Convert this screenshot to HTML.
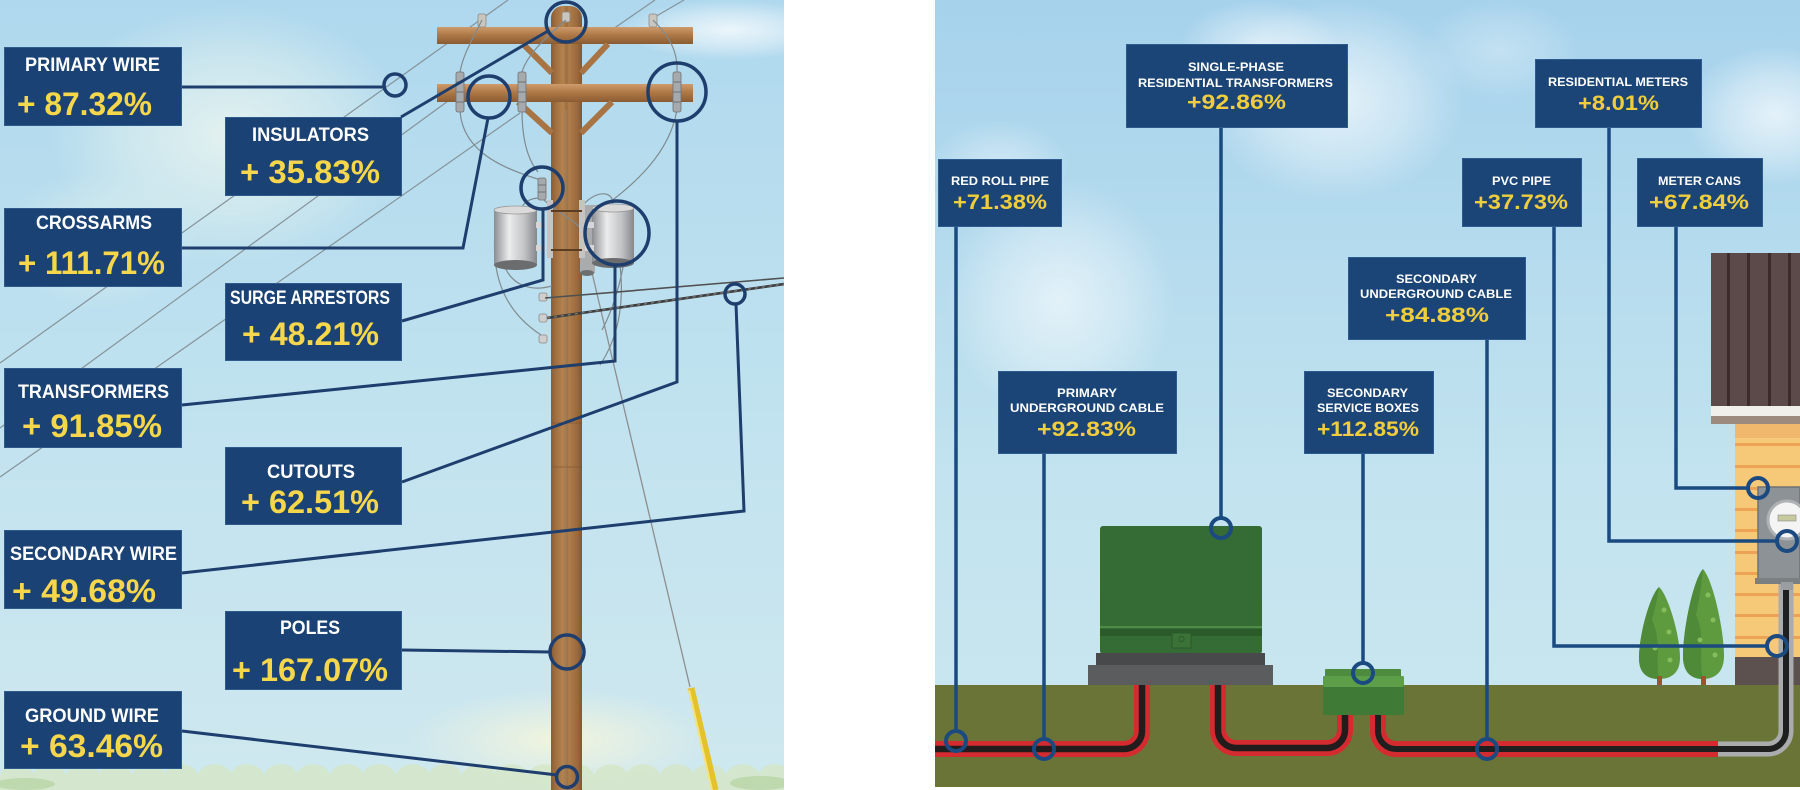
<!DOCTYPE html>
<html><head><meta charset="utf-8">
<style>
html,body{margin:0;padding:0;background:#fff;width:1800px;height:790px;overflow:hidden;}
svg{display:block;}
text{font-family:"Liberation Sans",Arial,sans-serif;font-weight:bold;}
</style></head>
<body>
<svg width="1800" height="790" viewBox="0 0 1800 790" xmlns="http://www.w3.org/2000/svg" style="overflow:hidden">
<defs>
 <linearGradient id="skyL" x1="0" y1="0" x2="0" y2="1">
  <stop offset="0" stop-color="#afd8ee"/>
  <stop offset="0.5" stop-color="#c0e2ef"/>
  <stop offset="1" stop-color="#cfe8ef"/>
 </linearGradient>
 <linearGradient id="skyR" x1="0" y1="0" x2="0" y2="1">
  <stop offset="0" stop-color="#a6d2ec"/>
  <stop offset="0.6" stop-color="#c2e3ef"/>
  <stop offset="1" stop-color="#cae7ef"/>
 </linearGradient>
 <radialGradient id="cloudW">
  <stop offset="0" stop-color="#ffffff" stop-opacity="0.75"/>
  <stop offset="0.55" stop-color="#ffffff" stop-opacity="0.4"/>
  <stop offset="1" stop-color="#ffffff" stop-opacity="0"/>
 </radialGradient>
 <radialGradient id="cloudL">
  <stop offset="0" stop-color="#e8f4ef" stop-opacity="0.9"/>
  <stop offset="0.6" stop-color="#e2f1ef" stop-opacity="0.5"/>
  <stop offset="1" stop-color="#dff0ef" stop-opacity="0"/>
 </radialGradient>
 <radialGradient id="glow">
  <stop offset="0" stop-color="#f3f5dc" stop-opacity="0.95"/>
  <stop offset="1" stop-color="#f3f5dc" stop-opacity="0"/>
 </radialGradient>
 <linearGradient id="pole" x1="0" y1="0" x2="1" y2="0">
  <stop offset="0" stop-color="#8a5d34"/>
  <stop offset="0.15" stop-color="#a06e40"/>
  <stop offset="0.4" stop-color="#b4844f"/>
  <stop offset="0.5" stop-color="#9c6d42"/>
  <stop offset="0.58" stop-color="#ad7d4a"/>
  <stop offset="0.85" stop-color="#9b693d"/>
  <stop offset="1" stop-color="#835730"/>
 </linearGradient>
 <linearGradient id="arm" x1="0" y1="0" x2="0" y2="1">
  <stop offset="0" stop-color="#cf9b6b"/>
  <stop offset="0.45" stop-color="#b07a48"/>
  <stop offset="1" stop-color="#8a5b32"/>
 </linearGradient>
 <linearGradient id="can" x1="0" y1="0" x2="1" y2="0">
  <stop offset="0" stop-color="#8a8d90"/>
  <stop offset="0.35" stop-color="#ececec"/>
  <stop offset="0.7" stop-color="#c2c4c6"/>
  <stop offset="1" stop-color="#85888b"/>
 </linearGradient>
 <clipPath id="clipL"><rect x="0" y="0" width="784" height="790"/></clipPath>
 <clipPath id="clipR"><rect x="935" y="0" width="865" height="787"/></clipPath>
</defs>

<!-- ================= LEFT PANEL ================= -->
<g clip-path="url(#clipL)">
 <rect x="0" y="0" width="784" height="790" fill="url(#skyL)"/>
 <ellipse cx="230" cy="135" rx="180" ry="130" fill="url(#cloudL)"/>
 <ellipse cx="100" cy="240" rx="100" ry="70" fill="url(#cloudL)" opacity="0.6"/>
 <ellipse cx="730" cy="30" rx="110" ry="30" fill="url(#cloudW)"/>
 <ellipse cx="560" cy="740" rx="150" ry="50" fill="url(#glow)"/>
 <!-- bushes -->
 <path d="M0,790 L0,776 a17,13 0 0 1 33,-3 a17,13 0 0 1 33,3 a17,13 0 0 1 33,-3 a17,13 0 0 1 33,3 a17,13 0 0 1 33,-3 a17,13 0 0 1 33,3 a17,13 0 0 1 33,-3 a17,13 0 0 1 33,3 a17,13 0 0 1 33,-3 a17,13 0 0 1 33,3 a17,13 0 0 1 33,-3 a17,13 0 0 1 33,3 a17,13 0 0 1 33,-3 a17,13 0 0 1 33,3 a17,13 0 0 1 33,-3 a17,13 0 0 1 33,3 a17,13 0 0 1 33,-3 a17,13 0 0 1 33,3 a17,13 0 0 1 33,-3 a17,13 0 0 1 33,3 a17,13 0 0 1 33,-3 a17,13 0 0 1 33,3 a17,13 0 0 1 33,-3 a17,13 0 0 1 33,3 L792,790 Z" fill="#d4e6c5" opacity="0.8"/>
 <ellipse cx="25" cy="784" rx="30" ry="6" fill="#b9d6a6" opacity="0.8"/>
 <ellipse cx="760" cy="783" rx="30" ry="7" fill="#b9d6a6" opacity="0.8"/>

 <!-- thin primary wires -->
 <g stroke="#85939a" stroke-width="1.2" fill="none">
  <line x1="0" y1="363" x2="508" y2="0"/>
  <line x1="0" y1="428" x2="470" y2="85"/>
  <line x1="0" y1="477" x2="520" y2="113"/>
  <line x1="653" y1="18" x2="684" y2="0"/>
  <line x1="600" y1="38" x2="655" y2="0"/>
 </g>

 <!-- guy wire -->
 <line x1="589" y1="260" x2="690" y2="687" stroke="#8d8f90" stroke-width="1.3"/>
 <line x1="691" y1="688" x2="715" y2="790" stroke="#e3c22b" stroke-width="7"/>
 <line x1="689" y1="690" x2="712" y2="790" stroke="#f6e27a" stroke-width="2"/>

 <!-- pole -->
 <rect x="551" y="6" width="31" height="784" rx="12" fill="url(#pole)"/>
 <rect x="551" y="770" width="31" height="20" fill="url(#pole)"/>
 <line x1="551" y1="423" x2="582" y2="423" stroke="#7a5230" stroke-width="1" opacity="0.6"/>
 <line x1="551" y1="467" x2="582" y2="467" stroke="#7a5230" stroke-width="1" opacity="0.6"/>
 <line x1="566" y1="110" x2="566" y2="790" stroke="#9a9a92" stroke-width="1" opacity="0.5"/>

 <!-- crossarms -->
 <rect x="437" y="27" width="256" height="17" fill="url(#arm)"/>
 <rect x="437" y="84" width="256" height="18" fill="url(#arm)"/>
 <!-- braces -->
 <g stroke="#a87443" stroke-width="6" stroke-linecap="butt">
  <line x1="523" y1="44" x2="552" y2="73"/>
  <line x1="608" y1="44" x2="581" y2="73"/>
  <line x1="518" y1="102" x2="552" y2="133"/>
  <line x1="612" y1="102" x2="581" y2="133"/>
 </g>

 <!-- pin insulators -->
 <g fill="#c9c5bf" stroke="#8d8a86" stroke-width="0.8">
  <rect x="478" y="14" width="8" height="13" rx="2"/>
  <rect x="649" y="14" width="8" height="13" rx="2"/>
  <rect x="562" y="12" width="8" height="10" rx="2"/>
 </g>
 <!-- drop wires -->
 <g stroke="#7f8b90" stroke-width="1.2" fill="none">
  <path d="M482,20 C472,40 463,55 460,72"/>
  <path d="M653,20 C668,35 678,50 677,72"/>
  <path d="M566,20 C545,38 527,55 522,72"/>
  <path d="M460,110 C462,150 500,168 541,180"/>
  <path d="M522,110 C522,140 528,160 538,172"/>
  <path d="M677,110 C670,150 640,180 606,205"/>
  <path d="M540,198 C528,198 522,204 520,212"/>
  <path d="M497,215 C490,260 495,305 541,335"/>
  <path d="M503,262 C510,285 530,292 552,286"/>
  <path d="M630,218 C626,262 618,300 602,330"/>
  <path d="M620,265 C624,300 620,335 600,365"/>
  <path d="M583,205 C598,188 616,192 612,206"/>
  <path d="M544,200 C560,215 575,220 582,230"/>
 </g>
 <!-- cutouts -->
 <g fill="#a7aaad" stroke="#6f7275" stroke-width="0.8">
  <rect x="456" y="72" width="8" height="40" rx="2"/>
  <rect x="518" y="72" width="8" height="40" rx="2"/>
  <rect x="673" y="72" width="8" height="40" rx="2"/>
  <rect x="538" y="178" width="8" height="22" rx="2"/>
 </g>
 <g stroke="#6f7275" stroke-width="1">
  <line x1="456" y1="82" x2="464" y2="82"/><line x1="456" y1="92" x2="464" y2="92"/><line x1="456" y1="102" x2="464" y2="102"/>
  <line x1="518" y1="82" x2="526" y2="82"/><line x1="518" y1="92" x2="526" y2="92"/><line x1="518" y1="102" x2="526" y2="102"/>
  <line x1="673" y1="82" x2="681" y2="82"/><line x1="673" y1="92" x2="681" y2="92"/><line x1="673" y1="102" x2="681" y2="102"/>
  <line x1="538" y1="185" x2="546" y2="185"/><line x1="538" y1="192" x2="546" y2="192"/>
 </g>

 <!-- transformers -->
 <rect x="580" y="205" width="15" height="68" fill="#a9abad"/>
 <ellipse cx="587" cy="273" rx="7" ry="3" fill="#6d6f71"/>
 <rect x="547" y="200" width="6" height="58" fill="#c4c4c4"/>
 <rect x="579" y="200" width="6" height="58" fill="#c4c4c4"/>
 <line x1="551" y1="211" x2="582" y2="211" stroke="#5b3d22" stroke-width="2"/>
 <line x1="551" y1="250" x2="582" y2="250" stroke="#5b3d22" stroke-width="2"/>
 <rect x="494" y="210" width="43" height="55" fill="url(#can)"/>
 <ellipse cx="515.5" cy="265" rx="21.5" ry="5" fill="#6a6c6e"/>
 <ellipse cx="515.5" cy="210" rx="21.5" ry="4" fill="#dadada" stroke="#9a9a9a" stroke-width="0.8"/>
 <rect x="592" y="208" width="42" height="55" fill="url(#can)"/>
 <ellipse cx="613" cy="263" rx="21" ry="5" fill="#6a6c6e"/>
 <ellipse cx="613" cy="208" rx="21" ry="4" fill="#dadada" stroke="#9a9a9a" stroke-width="0.8"/>
 <g fill="#d6d6d6">
  <rect x="536" y="222" width="9" height="6"/><rect x="536" y="245" width="9" height="6"/>
  <rect x="585" y="222" width="9" height="6"/><rect x="585" y="245" width="9" height="6"/>
 </g>
 <!-- spool insulators -->
 <g fill="#cfcfcf" stroke="#8a8a8a" stroke-width="0.8">
  <rect x="539" y="293" width="8" height="8" rx="2"/>
  <rect x="539" y="314" width="8" height="8" rx="2"/>
  <rect x="539" y="335" width="8" height="8" rx="2"/>
 </g>
 <!-- secondary wires -->
 <line x1="545" y1="298" x2="784" y2="278" stroke="#505050" stroke-width="1.6"/>
 <line x1="547" y1="318" x2="784" y2="284" stroke="#3d3d3d" stroke-width="2.6"/>
 <line x1="547" y1="318" x2="784" y2="284" stroke="#8a8a8a" stroke-width="1" stroke-dasharray="3 4"/>

 <!-- left boxes -->
 <g fill="#1a4275" stroke="#2f5a8c" stroke-width="1">
  <rect x="4.5" y="47.5" width="177" height="78"/>
  <rect x="225.5" y="117.5" width="176" height="78"/>
  <rect x="4.5" y="208.5" width="177" height="78"/>
  <rect x="225.5" y="283.5" width="176" height="77"/>
  <rect x="4.5" y="368.5" width="177" height="79"/>
  <rect x="225.5" y="447.5" width="176" height="77"/>
  <rect x="4.5" y="530.5" width="177" height="78"/>
  <rect x="225.5" y="611.5" width="176" height="78"/>
  <rect x="4.5" y="691.5" width="177" height="77"/>
 </g>
 <g fill="#ffffff" font-size="19">
  <text x="25" y="71" textLength="135" lengthAdjust="spacingAndGlyphs">PRIMARY WIRE</text>
  <text x="252" y="141" textLength="117" lengthAdjust="spacingAndGlyphs">INSULATORS</text>
  <text x="36" y="229" textLength="116" lengthAdjust="spacingAndGlyphs">CROSSARMS</text>
  <text x="230" y="304" textLength="160" lengthAdjust="spacingAndGlyphs">SURGE ARRESTORS</text>
  <text x="18" y="398" textLength="151" lengthAdjust="spacingAndGlyphs">TRANSFORMERS</text>
  <text x="267" y="478" textLength="88" lengthAdjust="spacingAndGlyphs">CUTOUTS</text>
  <text x="10" y="560" textLength="167" lengthAdjust="spacingAndGlyphs">SECONDARY WIRE</text>
  <text x="280" y="634" textLength="60" lengthAdjust="spacingAndGlyphs">POLES</text>
  <text x="25" y="722" textLength="134" lengthAdjust="spacingAndGlyphs">GROUND WIRE</text>
 </g>
 <g fill="#f6d64a" font-size="32">
  <text x="17" y="115" textLength="135" lengthAdjust="spacingAndGlyphs">+ 87.32%</text>
  <text x="240" y="183" textLength="140" lengthAdjust="spacingAndGlyphs">+ 35.83%</text>
  <text x="18" y="274" textLength="147" lengthAdjust="spacingAndGlyphs">+ 111.71%</text>
  <text x="242" y="345" textLength="137" lengthAdjust="spacingAndGlyphs">+ 48.21%</text>
  <text x="22" y="437" textLength="140" lengthAdjust="spacingAndGlyphs">+ 91.85%</text>
  <text x="241" y="513" textLength="138" lengthAdjust="spacingAndGlyphs">+ 62.51%</text>
  <text x="12" y="602" textLength="144" lengthAdjust="spacingAndGlyphs">+ 49.68%</text>
  <text x="232" y="681" textLength="156" lengthAdjust="spacingAndGlyphs">+ 167.07%</text>
  <text x="20" y="757" textLength="143" lengthAdjust="spacingAndGlyphs">+ 63.46%</text>
 </g>

 <!-- left connectors -->
 <g stroke="#1e3e6e" stroke-width="3" fill="none" stroke-linejoin="miter">
  <polyline points="182,87 384,87"/>
  <polyline points="401,117 548,31"/>
  <polyline points="182,248 463,248 488,118"/>
  <polyline points="402,321 543,280 543,209"/>
  <polyline points="182,405 615,361 615,266"/>
  <polyline points="402,482 677,382 677,121"/>
  <polyline points="182,573 744,511 736,304"/>
  <polyline points="402,650 550,652"/>
  <polyline points="182,731 557,775"/>
 </g>
 <g stroke="#1e3e6e" stroke-width="3.5" fill="none">
  <circle cx="395" cy="85" r="11"/>
  <circle cx="566" cy="22" r="20"/>
  <circle cx="489" cy="97" r="21"/>
  <circle cx="542" cy="188" r="21"/>
  <circle cx="617" cy="233" r="32"/>
  <circle cx="677" cy="92" r="29"/>
  <circle cx="735" cy="294" r="10"/>
  <circle cx="567" cy="652" r="17"/>
  <circle cx="567" cy="777" r="10.5"/>
 </g>
</g>

<!-- ================= RIGHT PANEL ================= -->
<g clip-path="url(#clipR)">
 <rect x="935" y="0" width="865" height="787" fill="url(#skyR)"/>
 <ellipse cx="1335" cy="100" rx="130" ry="100" fill="url(#cloudW)" opacity="0.9"/>
 <ellipse cx="1260" cy="45" rx="80" ry="45" fill="url(#cloudW)" opacity="0.7"/>
 <ellipse cx="1060" cy="300" rx="115" ry="120" fill="url(#cloudW)" opacity="0.8"/>
 <ellipse cx="1000" cy="165" rx="70" ry="45" fill="url(#cloudW)" opacity="0.5"/>
 <ellipse cx="1775" cy="115" rx="90" ry="70" fill="url(#cloudW)" opacity="0.9"/>
 <ellipse cx="1500" cy="50" rx="80" ry="50" fill="url(#cloudW)" opacity="0.4"/>

 <!-- ground -->
 <rect x="935" y="685" width="865" height="102" fill="#6a7436"/>

 <!-- house -->
 <rect x="1711" y="253" width="89" height="153" fill="#5b4a49"/>
 <g fill="#3b2b2b">
  <rect x="1727" y="253" width="3" height="153"/>
  <rect x="1747" y="253" width="3" height="153"/>
  <rect x="1768" y="253" width="3" height="153"/>
  <rect x="1788" y="253" width="3" height="153"/>
 </g>
 <rect x="1711" y="406" width="89" height="10" fill="#f1efeb"/>
 <rect x="1711" y="416" width="89" height="8" fill="#9c8a7f"/>
 <rect x="1735" y="424" width="65" height="233" fill="#f6c979"/>
 <rect x="1735" y="424" width="65" height="14" fill="#efb86c"/>
 <g fill="#eca356">
  <rect x="1735" y="443" width="65" height="3"/><rect x="1735" y="465" width="65" height="3"/>
  <rect x="1735" y="487" width="65" height="3"/><rect x="1735" y="508" width="65" height="3"/>
  <rect x="1735" y="529" width="65" height="3"/><rect x="1735" y="551" width="65" height="3"/>
  <rect x="1735" y="572" width="65" height="3"/><rect x="1735" y="593" width="65" height="3"/>
  <rect x="1735" y="614" width="65" height="3"/><rect x="1735" y="636" width="65" height="3"/>
 </g>
 <rect x="1735" y="657" width="65" height="28" fill="#5d5150"/>
 <!-- meter -->
 <rect x="1758" y="487" width="42" height="92" fill="#8d9296" stroke="#6e7376" stroke-width="1.5"/>
 <rect x="1755" y="578" width="45" height="6" fill="#7a7f82"/>
 <circle cx="1787" cy="520" r="19" fill="#f4f4f4" stroke="#aeb2b4" stroke-width="3"/>
 <rect x="1778" y="515" width="18" height="6" fill="#c6ca9e" stroke="#888" stroke-width="0.6"/>

 <!-- trees -->
 <path d="M1659,587 C1668,595 1680,635 1680,658 C1680,672 1672,679 1659,679 C1646,679 1639,672 1639,658 C1639,635 1650,595 1659,587 Z" fill="#5e9b3f"/>
 <path d="M1659,587 C1650,595 1639,635 1639,658 C1639,672 1646,679 1659,679 C1655,660 1662,640 1652,620 C1656,605 1658,595 1659,587 Z" fill="#4e8a37"/>
 <path d="M1703,569 C1713,580 1724,630 1724,656 C1724,671 1716,679 1703,679 C1690,679 1683,671 1683,656 C1683,630 1693,580 1703,569 Z" fill="#5e9b3f"/>
 <path d="M1703,569 C1693,580 1683,630 1683,656 C1683,671 1690,679 1703,679 C1698,660 1706,635 1696,615 C1700,598 1702,580 1703,569 Z" fill="#4e8a37"/>
 <g fill="#86bd5c">
  <circle cx="1664" cy="610" r="2.5"/><circle cx="1669" cy="632" r="2.5"/><circle cx="1655" cy="648" r="2.5"/><circle cx="1670" cy="660" r="2.5"/>
  <circle cx="1708" cy="595" r="2.5"/><circle cx="1713" cy="620" r="2.5"/><circle cx="1700" cy="640" r="2.5"/><circle cx="1715" cy="655" r="2.5"/>
 </g>
 <rect x="1657" y="676" width="5" height="9" fill="#a0522d"/>
 <rect x="1701" y="676" width="5" height="9" fill="#a0522d"/>

 <!-- pad transformer -->
 <rect x="1100" y="526" width="162" height="128" rx="3" fill="#356b34"/>
 <rect x="1100" y="626" width="162" height="2" fill="#4d8c48"/>
 <rect x="1100" y="629" width="162" height="7" fill="#2b5a2b"/>
 <rect x="1172" y="633" width="19" height="15" fill="#3a7238" stroke="#2a5a2a" stroke-width="1"/>
 <circle cx="1181.5" cy="639" r="2.5" fill="none" stroke="#2a5a2a" stroke-width="1"/>
 <rect x="1096" y="653" width="169" height="12" fill="#47494b"/>
 <rect x="1088" y="665" width="185" height="20" fill="#5a5c5e"/>

 <!-- service box -->
 <rect x="1325" y="669" width="76" height="8" rx="1" fill="#4d8c3e"/>
 <rect x="1323" y="676" width="81" height="39" rx="2" fill="#3f7b37"/>
 <rect x="1323" y="676" width="81" height="11" rx="2" fill="#5d9e48"/>

 <!-- cables -->
 <g fill="none" stroke-linejoin="round">
  <path d="M935,749 L1124,749 A18,18 0 0 0 1142,731 L1142,685" stroke="#d42b30" stroke-width="16"/>
  <path d="M1218,685 L1218,730 A18,18 0 0 0 1236,748 L1327,748 A18,18 0 0 0 1345,730 L1345,715" stroke="#d42b30" stroke-width="16"/>
  <path d="M1703,749 L1768,749 A18,18 0 0 0 1786,731 L1786,584" stroke="#a9abad" stroke-width="15"/>
  <path d="M1378,715 L1378,731 A18,18 0 0 0 1396,749 L1718,749" stroke="#d42b30" stroke-width="16"/>
  <path d="M935,749 L1124,749 A18,18 0 0 0 1142,731 L1142,685" stroke="#231c1c" stroke-width="6.5"/>
  <path d="M1218,685 L1218,730 A18,18 0 0 0 1236,748 L1327,748 A18,18 0 0 0 1345,730 L1345,715" stroke="#231c1c" stroke-width="6.5"/>
  <path d="M1378,715 L1378,731 A18,18 0 0 0 1396,749 L1768,749 A18,18 0 0 0 1786,731 L1786,584" stroke="#1f1f1f" stroke-width="6"/>
 </g>
 <rect x="1781" y="582" width="12" height="8" fill="#9a9ea0"/>

 <!-- right connectors -->
 <g stroke="#1b4a80" stroke-width="3.5" fill="none" stroke-linejoin="miter">
  <polyline points="1221,127 1221,518"/>
  <polyline points="1609,127 1609,541 1777,541"/>
  <polyline points="956,226 956,731"/>
  <polyline points="1554,226 1554,646 1767,646"/>
  <polyline points="1676,226 1676,488 1748,488"/>
  <polyline points="1487,339 1487,739"/>
  <polyline points="1044,453 1044,739"/>
  <polyline points="1363,453 1363,663"/>
 </g>
 <g stroke="#1b4a80" stroke-width="4" fill="none">
  <circle cx="1221" cy="528" r="10"/>
  <circle cx="1787" cy="541" r="10"/>
  <circle cx="956" cy="741" r="10"/>
  <circle cx="1777" cy="646" r="10"/>
  <circle cx="1758" cy="488" r="10"/>
  <circle cx="1487" cy="749" r="10"/>
  <circle cx="1044" cy="749" r="10"/>
  <circle cx="1363" cy="673" r="10"/>
 </g>

 <!-- right boxes -->
 <g fill="#1b4477" stroke="#2d5b8f" stroke-width="1">
  <rect x="1126.5" y="44.5" width="221" height="83"/>
  <rect x="1535.5" y="59.5" width="166" height="68"/>
  <rect x="938.5" y="159.5" width="123" height="67"/>
  <rect x="1462.5" y="158.5" width="119" height="68"/>
  <rect x="1637.5" y="158.5" width="125" height="68"/>
  <rect x="1348.5" y="257.5" width="177" height="82"/>
  <rect x="998.5" y="371.5" width="178" height="82"/>
  <rect x="1304.5" y="371.5" width="129" height="82"/>
 </g>
 <g fill="#ffffff" font-size="12">
  <text x="1188" y="71" textLength="96" lengthAdjust="spacingAndGlyphs">SINGLE-PHASE</text>
  <text x="1138" y="87" textLength="195" lengthAdjust="spacingAndGlyphs">RESIDENTIAL TRANSFORMERS</text>
  <text x="1548" y="86" textLength="140" lengthAdjust="spacingAndGlyphs">RESIDENTIAL METERS</text>
  <text x="951" y="185" textLength="98" lengthAdjust="spacingAndGlyphs">RED ROLL PIPE</text>
  <text x="1492" y="185" textLength="59" lengthAdjust="spacingAndGlyphs">PVC PIPE</text>
  <text x="1658" y="185" textLength="83" lengthAdjust="spacingAndGlyphs">METER CANS</text>
  <text x="1396" y="283" textLength="81" lengthAdjust="spacingAndGlyphs">SECONDARY</text>
  <text x="1360" y="298" textLength="152" lengthAdjust="spacingAndGlyphs">UNDERGROUND CABLE</text>
  <text x="1057" y="397" textLength="60" lengthAdjust="spacingAndGlyphs">PRIMARY</text>
  <text x="1010" y="412" textLength="154" lengthAdjust="spacingAndGlyphs">UNDERGROUND CABLE</text>
  <text x="1327" y="397" textLength="81" lengthAdjust="spacingAndGlyphs">SECONDARY</text>
  <text x="1317" y="412" textLength="102" lengthAdjust="spacingAndGlyphs">SERVICE BOXES</text>
 </g>
 <g fill="#f0cd3c" font-size="21">
  <text x="1187" y="109" textLength="99" lengthAdjust="spacingAndGlyphs">+92.86%</text>
  <text x="1578" y="110" textLength="81" lengthAdjust="spacingAndGlyphs">+8.01%</text>
  <text x="953" y="209" textLength="94" lengthAdjust="spacingAndGlyphs">+71.38%</text>
  <text x="1474" y="209" textLength="94" lengthAdjust="spacingAndGlyphs">+37.73%</text>
  <text x="1649" y="209" textLength="100" lengthAdjust="spacingAndGlyphs">+67.84%</text>
  <text x="1385" y="322" textLength="104" lengthAdjust="spacingAndGlyphs">+84.88%</text>
  <text x="1037" y="436" textLength="99" lengthAdjust="spacingAndGlyphs">+92.83%</text>
  <text x="1317" y="436" textLength="102" lengthAdjust="spacingAndGlyphs">+112.85%</text>
 </g>
</g>
</svg>
</body></html>
